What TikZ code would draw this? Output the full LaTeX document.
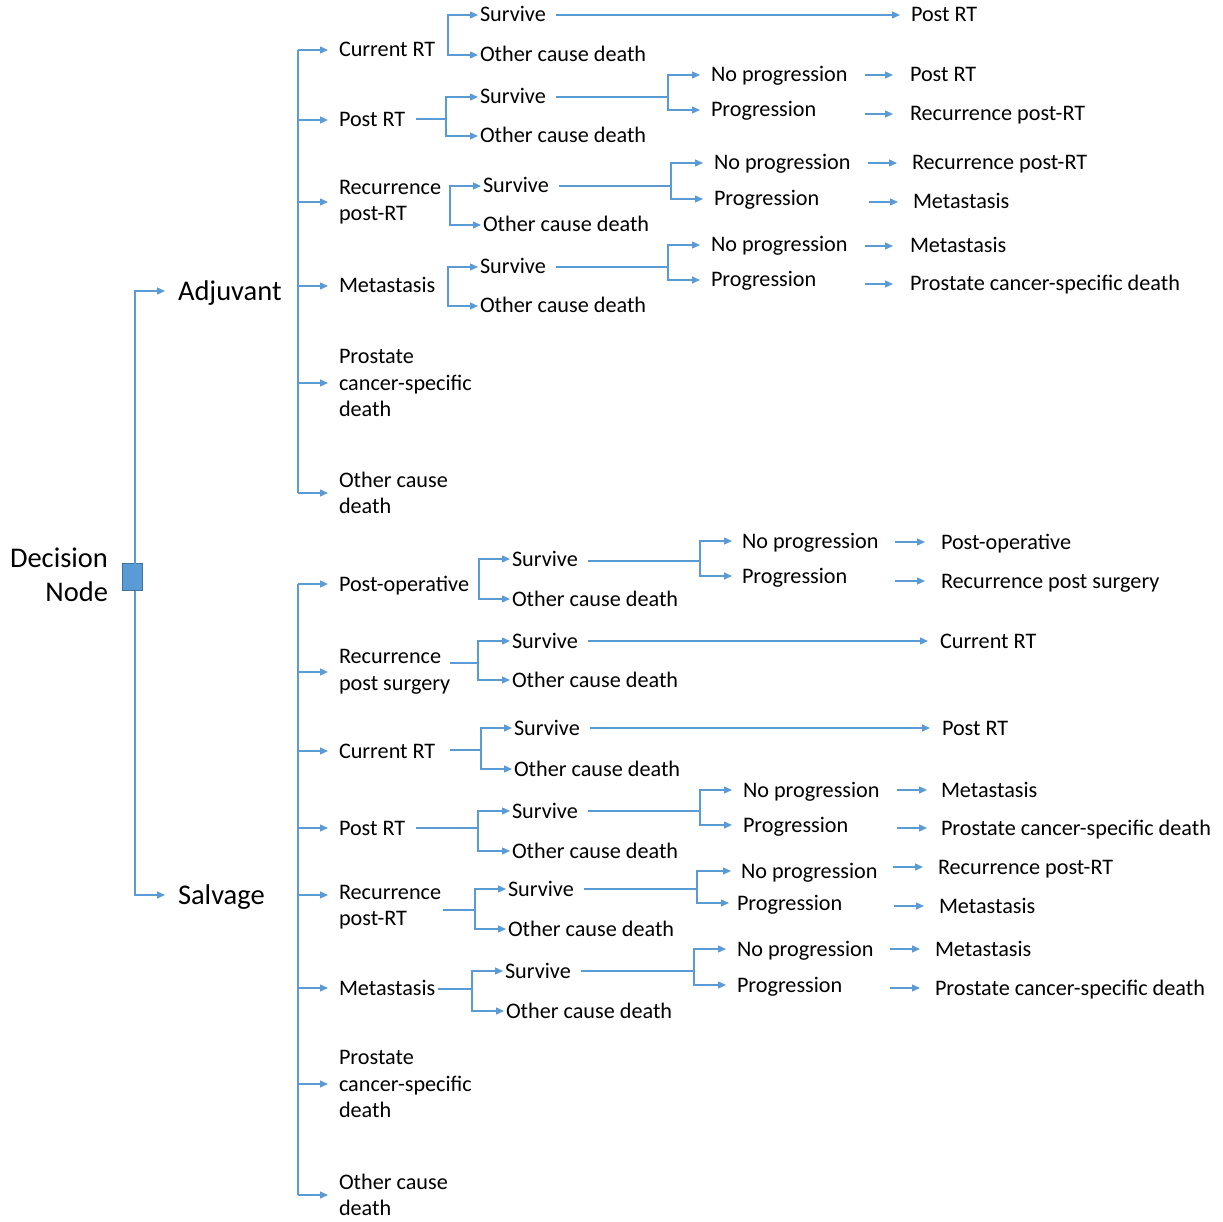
\documentclass[tikz,border=0pt]{standalone}
\usepackage{fontspec}
\setmainfont{Carlito}
\usepackage{xcolor}
\usepackage{tikz}
\usetikzlibrary{arrows.meta}
\definecolor{lineblue}{HTML}{5B9BD5}
\definecolor{nodeblue}{HTML}{5B9BD5}
\definecolor{nodeedge}{HTML}{41719C}

\begin{document}
\begin{tikzpicture}[x=1pt, y=-1pt,
  every node/.style={inner sep=0pt, outer sep=0pt},
  txt/.style={anchor=west, font=\fontsize{22.2}{26.5}\selectfont, text height=14pt, text depth=0pt},
  mtxt/.style={anchor=west, align=left, font=\fontsize{22.2}{26.5}\selectfont},
  big/.style={anchor=west, font=\fontsize{28.5}{34}\selectfont, text height=18.4pt, text depth=0pt},
  conn/.style={draw=lineblue, line width=1.3pt},
  arw/.style={conn, -{Triangle[length=8pt,width=7pt]}, shorten >=#1},
  arw/.default=2pt]
\useasboundingbox (0,0) rectangle (1223,1222);

% decision node
\node[draw=nodeedge, fill=nodeblue, line width=0.8pt, minimum width=20pt, minimum height=27pt] (dn) at (132,577) {};
\node[anchor=east, align=right, font=\fontsize{28.5}{34}\selectfont] (dlab) at (108,575) {Decision\\Node};
\node[big] (adj) at (178,291) {Adjuvant};
\node[big] (salv) at (178,895) {Salvage};
\coordinate (dtr) at (135,0);
\draw[arw=13pt] (dtr |- dn.north) |- (adj.west);
\draw[arw=13pt] (dtr |- dn.south) |- (salv.west);

% adjuvant arm
\coordinate (atr) at (298,0);
\node[txt] (a1) at (339,50) {Current RT};
\node[txt] (a2) at (339,120) {Post RT};
\node[mtxt] (a3) at (339,202) {Recurrence\\post-RT};
\node[txt] (a4) at (339,286) {Metastasis};
\node[mtxt] (a5) at (339,383) {Prostate\\cancer-specific\\death};
\node[mtxt] (a6) at (339,493) {Other cause\\death};
\draw[conn] (atr |- a1.west) -- (atr |- a6.west);
\draw[arw=11pt] (atr |- a1.west) -- (a1.west);
\draw[arw=11pt] (atr |- a2.west) -- (a2.west);
\draw[arw=11pt] (atr |- a3.west) -- (a3.west);
\draw[arw=11pt] (atr |- a4.west) -- (a4.west);
\draw[arw=11pt] (atr |- a5.west) -- (a5.west);
\draw[arw=11pt] (atr |- a6.west) -- (a6.west);

% adjuvant: current RT
\node[txt] (a1s) at (480,15) {Survive};
\node[txt] (a1o) at (480,55) {Other cause death};
\node[txt] (a1t) at (911,15) {Post RT};
\coordinate (b1) at (448,35);
\draw[arw] (b1) |- (a1s.west);
\draw[arw] (b1) |- (a1o.west);
\draw[arw=11pt, shorten <=10pt] (a1s.east) -- (a1t.west);

% adjuvant: post RT
\node[txt] (a2s) at (480,97) {Survive};
\node[txt] (a2o) at (480,136) {Other cause death};
\node[txt] (a2n) at (711,75) {No progression};
\node[txt] (a2p) at (711,110) {Progression};
\node[txt] (a2nt) at (910,75) {Post RT};
\node[txt] (a2pt) at (910,114) {Recurrence post-RT};
\coordinate (b2) at (446,119);
\coordinate (c2) at (668,97);
\draw[conn, shorten <=11pt] (a2.east |- b2) -- (b2);
\draw[arw] (b2) |- (a2s.west);
\draw[arw] (b2) |- (a2o.west);
\draw[conn, shorten <=10pt] (a2s.east) -- (c2);
\draw[arw=11pt] (c2) |- (a2n.west);
\draw[arw=11pt] (c2) |- (a2p.west);
\draw[arw=17pt] ([xshift=-45pt]a2nt.west) -- (a2nt.west);
\draw[arw=17pt] ([xshift=-45pt]a2pt.west) -- (a2pt.west);

% adjuvant: recurrence post-RT
\node[txt] (a3s) at (483,186) {Survive};
\node[txt] (a3o) at (483,225) {Other cause death};
\node[txt] (a3n) at (714,163) {No progression};
\node[txt] (a3p) at (714,199) {Progression};
\node[txt] (a3nt) at (912,163) {Recurrence post-RT};
\node[txt] (a3pt) at (913,202) {Metastasis};
\coordinate (b3) at (450,205);
\coordinate (c3) at (671,186);
\draw[arw] (b3) |- (a3s.west);
\draw[arw] (b3) |- (a3o.west);
\draw[conn, shorten <=10pt] (a3s.east) -- (c3);
\draw[arw=11pt] (c3) |- (a3n.west);
\draw[arw=11pt] (c3) |- (a3p.west);
\draw[arw=15pt] ([xshift=-44pt]a3nt.west) -- (a3nt.west);
\draw[arw=15pt] ([xshift=-44pt]a3pt.west) -- (a3pt.west);

% adjuvant: metastasis
\node[txt] (a4s) at (480,267) {Survive};
\node[txt] (a4o) at (480,306) {Other cause death};
\node[txt] (a4n) at (711,245) {No progression};
\node[txt] (a4p) at (711,280) {Progression};
\node[txt] (a4nt) at (910,246) {Metastasis};
\node[txt] (a4pt) at (910,284) {Prostate cancer-specific death};
\coordinate (b4) at (448,286);
\coordinate (c4) at (668,267);
\draw[arw] (b4) |- (a4s.west);
\draw[arw] (b4) |- (a4o.west);
\draw[conn, shorten <=10pt] (a4s.east) -- (c4);
\draw[arw=11pt] (c4) |- (a4n.west);
\draw[arw=11pt] (c4) |- (a4p.west);
\draw[arw=17pt] ([xshift=-45pt]a4nt.west) -- (a4nt.west);
\draw[arw=17pt] ([xshift=-45pt]a4pt.west) -- (a4pt.west);

% salvage arm
\coordinate (str) at (298,0);
\node[txt] (s1) at (339,584) {Post-operative};
\node[mtxt] (s2) at (339,672) {Recurrence\\post surgery};
\node[txt] (s3) at (339,751) {Current RT};
\node[txt] (s4) at (339,828) {Post RT};
\node[mtxt] (s5) at (339,907) {Recurrence\\post-RT};
\node[txt] (s6) at (339,988) {Metastasis};
\node[mtxt] (s7) at (339,1084) {Prostate\\cancer-specific\\death};
\node[mtxt] (s8) at (339,1195) {Other cause\\death};
\draw[conn] (str |- s1.west) -- (str |- s8.west);
\draw[arw=11pt] (str |- s1.west) -- (s1.west);
\draw[arw=11pt] (str |- s2.west) -- (s2.west);
\draw[arw=11pt] (str |- s3.west) -- (s3.west);
\draw[arw=11pt] (str |- s4.west) -- (s4.west);
\draw[arw=11pt] ([yshift=12pt]s5.west -| str) -- ([yshift=12pt]s5.west);
\draw[arw=11pt] (str |- s6.west) -- (s6.west);
\draw[arw=11pt] (str |- s7.west) -- (s7.west);
\draw[arw=11pt] (str |- s8.west) -- (s8.west);

% salvage: post-operative
\node[txt] (s1s) at (512,559) {Survive};
\node[txt] (s1o) at (512,599) {Other cause death};
\node[txt] (s1n) at (742,541) {No progression};
\node[txt] (s1p) at (742,576) {Progression};
\node[txt] (s1nt) at (941,542) {Post-operative};
\node[txt] (s1pt) at (941,581) {Recurrence post surgery};
\coordinate (sb1) at (479,579);
\coordinate (sc1) at (700,561);
\draw[arw] (sb1) |- (s1s.west);
\draw[arw] (sb1) |- (s1o.west);
\draw[conn, shorten <=10pt] (s1s.east |- sc1) -- (sc1);
\draw[arw=10pt] (sc1) |- (s1n.west);
\draw[arw=10pt] (sc1) |- (s1p.west);
\draw[arw=16pt] ([xshift=-46pt]s1nt.west) -- (s1nt.west);
\draw[arw=16pt] ([xshift=-46pt]s1pt.west) -- (s1pt.west);

% salvage: recurrence post surgery
\node[txt] (s2s) at (512,641) {Survive};
\node[txt] (s2o) at (512,680) {Other cause death};
\node[txt] (s2t) at (940,641) {Current RT};
\coordinate (sb2) at (478,663);
\draw[conn] (s2.east |- sb2) -- (sb2);
\draw[arw] (sb2) |- (s2s.west);
\draw[arw] (sb2) |- (s2o.west);
\draw[arw=12pt, shorten <=10pt] (s2s.east) -- (s2t.west);

% salvage: current RT
\node[txt] (s3s) at (514,728) {Survive};
\node[txt] (s3o) at (514,769) {Other cause death};
\node[txt] (s3t) at (942,728) {Post RT};
\coordinate (sb3) at (481,750);
\draw[conn, shorten <=15pt] (s3.east |- sb3) -- (sb3);
\draw[arw] (sb3) |- (s3s.west);
\draw[arw] (sb3) |- (s3o.west);
\draw[arw=12pt, shorten <=10pt] (s3s.east) -- (s3t.west);

% salvage: post RT
\node[txt] (s4s) at (512,811) {Survive};
\node[txt] (s4o) at (512,851) {Other cause death};
\node[txt] (s4n) at (743,790) {No progression};
\node[txt] (s4p) at (743,825) {Progression};
\node[txt] (s4nt) at (941,790) {Metastasis};
\node[txt] (s4pt) at (941,828) {Prostate cancer-specific death};
\coordinate (sb4) at (478,828);
\coordinate (sc4) at (700,811);
\draw[conn, shorten <=11pt] (s4.east |- sb4) -- (sb4);
\draw[arw] (sb4) |- (s4s.west);
\draw[arw] (sb4) |- (s4o.west);
\draw[conn, shorten <=10pt] (s4s.east) -- (sc4);
\draw[arw=11pt] (sc4) |- (s4n.west);
\draw[arw=11pt] (sc4) |- (s4p.west);
\draw[arw=14pt] ([xshift=-44pt]s4nt.west) -- (s4nt.west);
\draw[arw=14pt] ([xshift=-44pt]s4pt.west) -- (s4pt.west);

% salvage: recurrence post-RT
\node[txt] (s5s) at (508,889) {Survive};
\node[txt] (s5o) at (508,929) {Other cause death};
\node[txt] (s5n) at (741,871) {No progression};
\node[txt] (s5p) at (737,903) {Progression};
\node[txt] (s5nt) at (938,867) {Recurrence post-RT};
\node[txt] (s5pt) at (939,906) {Metastasis};
\coordinate (sb5) at (475,910);
\coordinate (sc5) at (697,889);
\draw[conn, shorten <=2pt] (s5.east |- sb5) -- (sb5);
\draw[arw] (sb5) |- (s5s.west);
\draw[arw] (sb5) |- (s5o.west);
\draw[conn, shorten <=10pt] (s5s.east) -- (sc5);
\draw[arw=10pt] (sc5) |- (s5n.west);
\draw[arw=8pt] (sc5) |- (s5p.west);
\draw[arw=15pt] ([xshift=-45pt]s5nt.west) -- (s5nt.west);
\draw[arw=15pt] ([xshift=-45pt]s5pt.west) -- (s5pt.west);

% salvage: metastasis
\node[txt] (s6s) at (505,971) {Survive};
\node[txt] (s6o) at (506,1011) {Other cause death};
\node[txt] (s6n) at (737,949) {No progression};
\node[txt] (s6p) at (737,985) {Progression};
\node[txt] (s6nt) at (935,949) {Metastasis};
\node[txt] (s6pt) at (935,988) {Prostate cancer-specific death};
\coordinate (sb6) at (472,989);
\coordinate (sc6) at (694,971);
\draw[conn, shorten <=3pt] (s6.east |- sb6) -- (sb6);
\draw[arw] (sb6) |- (s6s.west);
\draw[arw] (sb6) |- (s6o.west);
\draw[conn, shorten <=10pt] (s6s.east) -- (sc6);
\draw[arw=11pt] (sc6) |- (s6n.west);
\draw[arw=11pt] (sc6) |- (s6p.west);
\draw[arw=15pt] ([xshift=-45pt]s6nt.west) -- (s6nt.west);
\draw[arw=15pt] ([xshift=-45pt]s6pt.west) -- (s6pt.west);
\end{tikzpicture}
\end{document}
